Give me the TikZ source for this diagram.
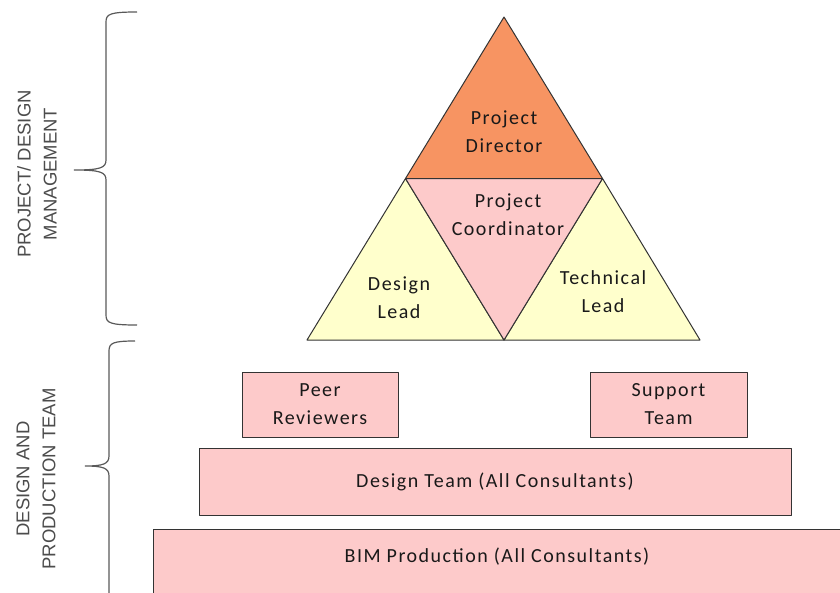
\documentclass[tikz,border=0pt]{standalone}
\usepackage{fontspec}
\setmainfont{Carlito}[LetterSpace=7.5]
\newfontfamily\capsfont{Liberation Sans}
\usetikzlibrary{positioning}

\definecolor{leadorange}{RGB}{247,148,98}
\definecolor{rolepink}{RGB}{253,202,202}
\definecolor{leadyellow}{RGB}{255,255,204}

\begin{document}
\begin{tikzpicture}[x=1pt,y=-1pt,
  every node/.style={font=\fontsize{20}{28}\selectfont, text=black!90, align=center},
  part/.style={draw=black!80, line width=1pt, line join=round},
  teambox/.style={part, fill=rolepink, inner sep=0pt},
  sidelabel/.style={font=\capsfont\fontsize{18.5}{26}\selectfont, text=black!70, rotate=90},
  brace/.style={draw=black!65, line width=1.2pt}]
  \useasboundingbox (0,0) rectangle (840,592);
  \clip (0,0) rectangle (840,592);

  % management triangle
  \coordinate (apex) at (504,17);
  \coordinate (bl) at (307,340);
  \coordinate (br) at (700,340);
  \coordinate (ml) at (405.5,178.5);
  \coordinate (mr) at (602.5,178.5);
  \coordinate (mb) at (504,340);
  \filldraw[part, fill=leadorange] (apex) -- (ml) -- (mr) -- cycle;
  \filldraw[part, fill=leadyellow] (ml) -- (bl) -- (mb) -- cycle;
  \filldraw[part, fill=leadyellow] (mr) -- (mb) -- (br) -- cycle;
  \filldraw[part, fill=rolepink] (ml) -- (mr) -- (mb) -- cycle;
  \node (director) at (504,132) {Project\\Director};
  \node (coordinator) at (508,215) {Project\\Coordinator};
  \node (designlead) at (399,298) {Design\\Lead};
  \node (techlead) at (603,292) {Technical\\Lead};

  % team blocks
  \node[teambox, minimum width=156, minimum height=65] (peer) at (320,404.5) {Peer\\Reviewers};
  \node[teambox, minimum width=157, minimum height=65] (support) at (668.5,404.5) {Support\\Team};
  \node[teambox, minimum width=592, minimum height=67] (designteam) at (495,481.5) {Design Team (All Consultants)};
  \draw[part, fill=rolepink] (153,529) rectangle (860,610);
  \node (bim) at (497,557) {BIM Production (All Consultants)};

  % braces: top/tip/bottom/spine/arm end/tip end
  \foreach \top/\tip/\bot/\sx/\ax/\tx in {12/170/325/106/137/74, 341/466/604/109/135/85} {
    \draw[brace] (\ax,\top) .. controls (\sx+4,\top) and (\sx,\top+2) .. (\sx,\top+10)
      -- (\sx,\tip-10) .. controls (\sx,\tip-2) and (\sx-6,\tip) .. (\tx,\tip)
      .. controls (\sx-6,\tip) and (\sx,\tip+2) .. (\sx,\tip+10)
      -- (\sx,\bot-10) .. controls (\sx,\bot-2) and (\sx+4,\bot) .. (\ax,\bot);
  }
  \node[sidelabel] (mgmt) at (37,174) {PROJECT/ DESIGN\\MANAGEMENT};
  \node[sidelabel] (production) at (36,479) {DESIGN AND\\PRODUCTION TEAM};
\end{tikzpicture}
\end{document}
